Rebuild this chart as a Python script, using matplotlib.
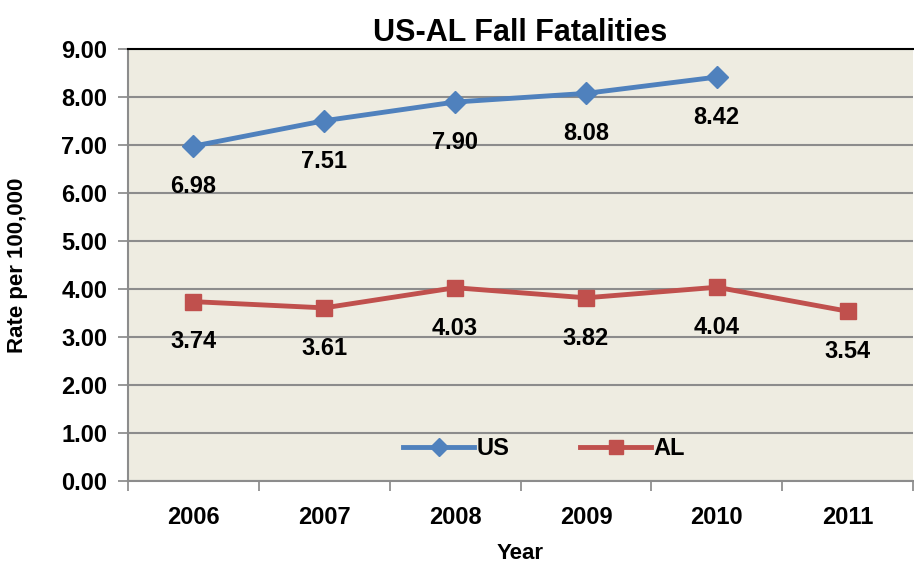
#!/usr/bin/env python
# -*- coding: utf8 -*-
import numpy as np
import matplotlib
matplotlib.use('Agg')
import matplotlib.pyplot as plt

years = ['2006', '2007', '2008', '2009', '2010', '2011']
us_rate = [6.98, 7.51, 7.90, 8.08, 8.42]
al_rate = [3.74, 3.61, 4.03, 3.82, 4.04, 3.54]

blue = '#4F81BD'
red = '#C0504D'

plt.rcParams['font.family'] = ['Liberation Sans', 'DejaVu Sans']
plt.rcParams['font.weight'] = 'bold'

fig = plt.figure(figsize=(9.14, 5.66), dpi=100)
ax = fig.add_axes([0.140, 0.150, 0.859, 0.763])
ax.set_facecolor('#EEECE1')

x_us = np.arange(len(us_rate))
x_al = np.arange(len(al_rate))

ax.plot(x_us, us_rate, color=blue, lw=3.5, marker='D', ms=11, label='US', zorder=3)
ax.plot(x_al, al_rate, color=red, lw=3.5, marker='s', ms=12, label='AL', zorder=3)

# data labels below each point
for xi, v in zip(x_us, us_rate):
    ax.annotate('{:.2f}'.format(v), (xi, v), xytext=(0, -29),
                textcoords='offset points', ha='center', va='center',
                fontsize=17, fontweight='bold')
for xi, v in zip(x_al, al_rate):
    ax.annotate('{:.2f}'.format(v), (xi, v), xytext=(0, -29),
                textcoords='offset points', ha='center', va='center',
                fontsize=17, fontweight='bold')

ax.set_xlim(-0.5, len(years) - 0.5)
ax.set_ylim(0, 9)
ax.set_yticks(np.arange(0, 10, 1))
ax.set_yticklabels(['{:.2f}'.format(v) for v in np.arange(0, 10, 1)])
ax.set_xticks(x_al)
ax.set_xticklabels(years)
ax.set_xticks(np.arange(-0.5, len(years), 1), minor=True)
ax.tick_params(axis='x', which='major', length=0, pad=18, labelsize=17)
ax.tick_params(axis='x', which='minor', length=7, width=1.2, color='#868686')
ax.tick_params(axis='y', length=7, width=1.2, color='#868686', labelsize=17, pad=8)
for lab in ax.get_xticklabels() + ax.get_yticklabels():
    lab.set_fontweight('bold')

ax.grid(axis='y', color='#8C8C8C', lw=1.5, zorder=0)
ax.set_axisbelow(True)
for side in ['left', 'bottom']:
    ax.spines[side].set_color('#8C8C8C')
    ax.spines[side].set_linewidth(1.5)
ax.spines['right'].set_visible(False)
ax.spines['top'].set_color('black')
ax.spines['top'].set_linewidth(1.5)

ax.set_title('US-AL Fall Fatalities', fontsize=22, fontweight='bold', pad=6)
ax.set_xlabel('Year', fontsize=16, fontweight='bold', labelpad=10)
ax.set_ylabel('Rate per 100,000', fontsize=16, fontweight='bold', labelpad=24)

leg = ax.legend(loc='lower center', bbox_to_anchor=(0.53, 0.0), ncol=2,
                frameon=False, fontsize=17, handlelength=3, handletextpad=0.1,
                columnspacing=3, markerscale=0.85)
for t in leg.get_texts():
    t.set_fontweight('bold')

fig.savefig('out.png', dpi=100)
